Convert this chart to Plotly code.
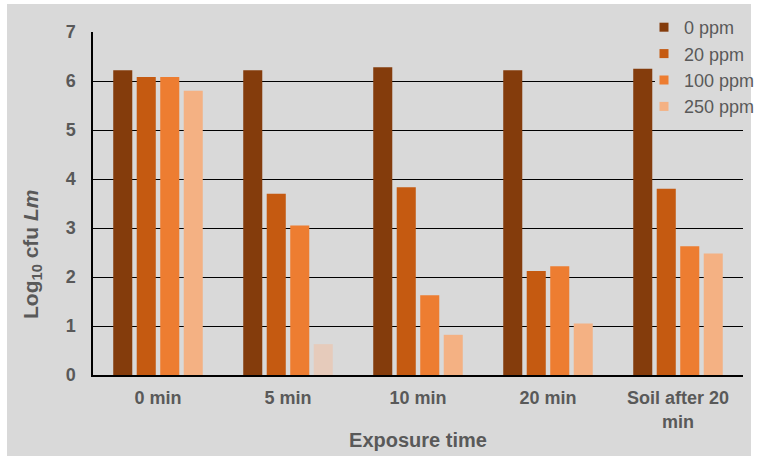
import plotly.graph_objects as go

categories = ["0 min", "5 min", "10 min", "20 min", "Soil after 20<br>min"]
series_names = ["0 ppm", "20 ppm", "100 ppm", "250 ppm"]
ppm0 = [6.22, 6.22, 6.28, 6.22, 6.25]
ppm20 = [6.08, 3.70, 3.83, 2.12, 3.80]
ppm100 = [6.08, 3.05, 1.63, 2.22, 2.63]
ppm250 = [5.80, 0.63, 0.82, 1.05, 2.48]
y_ticks = [0, 1, 2, 3, 4, 5, 6, 7]

colors = ["#843c0c", "#c55a11", "#ed7d31", "#f4b183"]
colors_250 = ["#f4b183", "#e6cbbb", "#f4b183", "#f4b183", "#f4b183"]

W, H = 758, 457
L, R, T, B = 93, 15, 32, 82
pw, ph = W - L - R, H - T - B

def px(x):
    return (x - L) / pw

def py(y):
    return (H - B - y) / ph

TXT = "#595959"
FONT = "Liberation Sans, Arial, sans-serif"

fig = go.Figure()
for i, (name, vals) in enumerate(zip(series_names, [ppm0, ppm20, ppm100, ppm250])):
    col = colors_250 if i == 3 else colors[i]
    fig.add_trace(go.Bar(x=categories, y=vals, name=name, showlegend=False,
                         marker=dict(color=col, line=dict(width=0))))
# legend keys (small squares)
for i, name in enumerate(series_names):
    fig.add_trace(go.Scatter(x=[None], y=[None], mode="markers", name=name,
                             marker=dict(symbol="square", size=9, color=colors[i]),
                             hoverinfo="skip"))

fig.update_layout(
    width=W, height=H,
    margin=dict(l=L, r=R, t=T, b=B, autoexpand=False),
    paper_bgcolor="white",
    plot_bgcolor="rgba(0,0,0,0)",
    barmode="group",
    bargap=0.277,
    bargroupgap=0.19,
    font=dict(family=FONT, color=TXT),
    legend=dict(x=px(644), y=py(9), xanchor="left", yanchor="top",
                bgcolor="rgba(0,0,0,0)", font=dict(size=18, color=TXT, family=FONT),
                tracegroupgap=0, itemclick=False),
    shapes=[dict(type="rect", xref="paper", yref="paper",
                 x0=px(7), x1=px(751), y0=py(456), y1=py(4),
                 fillcolor="#d9d9d9", line=dict(width=0), layer="below"),
            # legend backdrop hiding the gridlines behind the legend
            dict(type="rect", xref="x", yref="y",
                 x0=3.823, x1=4.6, y0=5.25, y1=7.3,
                 fillcolor="#d9d9d9", line=dict(width=0), layer="between")],
    annotations=[dict(text="Log<sub>10</sub> cfu <i>Lm</i>", xref="paper", yref="paper",
                      x=px(32), y=py(254), xanchor="center", yanchor="middle",
                      textangle=-90, showarrow=False,
                      font=dict(size=21, color=TXT, family=FONT, weight="bold"))],
)

fig.update_xaxes(
    range=[-0.5, 4.5], autorange=False,
    showline=True, linecolor="black", linewidth=1.5,
    ticks="", ticklabelstandoff=6,
    tickfont=dict(size=18, color=TXT, family=FONT, weight="bold"),
    title=dict(text="Exposure time", standoff=2,
               font=dict(size=20, color=TXT, family=FONT, weight="bold")),
)
fig.update_yaxes(
    range=[0, 7], tickvals=y_ticks,
    showline=True, linecolor="black", linewidth=1.5,
    showgrid=True, gridcolor="black", gridwidth=1.3, zeroline=False,
    ticks="", ticklabelstandoff=12,
    tickfont=dict(size=18, color=TXT, family=FONT, weight="bold"),
)

fig.write_html("out.html")
